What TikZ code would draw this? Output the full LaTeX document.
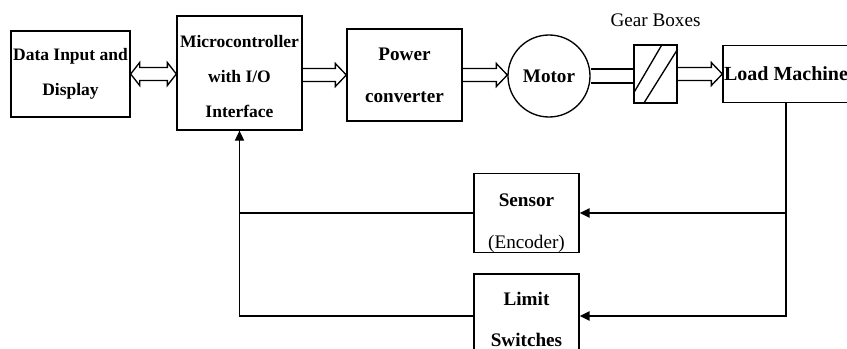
\documentclass[tikz,border=0pt]{standalone}
\usepackage{fontspec}
\setmainfont{Liberation Serif}
\usetikzlibrary{arrows.meta, positioning, calc}

\begin{document}
\begin{tikzpicture}[x=0.6pt, y=-0.6pt, line width=0.8pt,
    block/.style={draw, align=center, inner sep=0pt, font=\fontsize{11.5}{25}\selectfont\bfseries},
    small/.style={font=\fontsize{10.5}{21}\selectfont\bfseries},
    hollow/.style={to path={let \p1=(\tikztostart), \p2=(\tikztotarget) in
        (\x1,\y1+3.9pt) -- (\x2-6.6pt,\y1+3.9pt) -- (\x2-6.6pt,\y1+6.9pt) -- (\x2,\y1)
        -- (\x2-6.6pt,\y1-6.9pt) -- (\x2-6.6pt,\y1-3.9pt) -- (\x1,\y1-3.9pt)}},
    hollowboth/.style={to path={let \p1=(\tikztostart), \p2=(\tikztotarget) in
        (\x1,\y1) -- (\x1+5.4pt,\y1+6.9pt) -- (\x1+5.4pt,\y1+3.9pt) -- (\x2-5.4pt,\y1+3.9pt)
        -- (\x2-5.4pt,\y1+6.9pt) -- (\x2,\y1) -- (\x2-5.4pt,\y1-6.9pt) -- (\x2-5.4pt,\y1-3.9pt)
        -- (\x1+5.4pt,\y1-3.9pt) -- (\x1+5.4pt,\y1-6.9pt) -- cycle}},
    shaft/.style={to path={let \p1=(\tikztostart), \p2=(\tikztotarget) in
        (\x1,\y1+4.2pt) -- (\x2,\y1+4.2pt) (\x1,\y1-4.2pt) -- (\x2,\y1-4.2pt)}},
    fb/.style={-{Triangle[length=6pt,width=5.5pt]}}]
    \useasboundingbox (0,0) rectangle (847,349);

    \node[block, small, minimum width=71.4pt, minimum height=51.6pt] (data) at (70.5,74) {Data Input and\\Display};
    \node[block, small, minimum width=75pt, minimum height=68.4pt] (micro) at (239.5,73) {\rule{0pt}{11pt}Microcontroller\\with I/O\\Interface};
    \node[block, minimum width=69pt, minimum height=55.2pt] (power) at (404.5,75) {Power\\converter};
    \node[block, circle, minimum size=49.2pt] (motor) at (549,76) {Motor};
    \node[draw, minimum width=25.8pt, minimum height=34.8pt, inner sep=0pt] (gear) at (655.5,74) {};
    \node[above=7pt of gear, font=\fontsize{11.5}{14}\selectfont] (gearlabel) {Gear Boxes};
    \node[block, minimum width=75.6pt, minimum height=34.2pt, font=\fontsize{12}{14}\selectfont\bfseries] (load) at (786,74) {Load Machine};
    \node[block, minimum width=63pt, minimum height=45.6pt] (sensor) at (526.5,213) {\rule{0pt}{20pt}Sensor\\\mdseries(Encoder)};
    \node[block, minimum width=63pt, minimum height=50.4pt] (limit) at (526.5,316) {\rule{0pt}{12pt}Limit\\Switches};

    \draw ($(gear.south west)!0.17!(gear.north west)$) -- ($(gear.north west)!0.65!(gear.north east)$);
    \draw ($(gear.south west)!0.23!(gear.south east)$) -- ($(gear.north east)!0.08!(gear.south east)$);

    \draw (data.east) to[hollowboth] (data.east -| micro.west);
    \draw (micro.east |- power.west) to[hollow] (power.west);
    \draw (power.east) to[hollow] (power.east -| motor.west);
    \draw (motor.east) to[shaft] (motor.east -| gear.west);
    \draw (gear.east) to[hollow] (load.west);

    \draw[fb, line width=1.1pt] (load.south) |- (limit.east);
    \draw[fb, line width=1.1pt] (load.south |- sensor.east) -- (sensor.east);
    \draw[fb] (sensor.west) -| (micro.south);
    \draw (limit.west) -| (micro.south |- sensor.west);
\end{tikzpicture}
\end{document}
